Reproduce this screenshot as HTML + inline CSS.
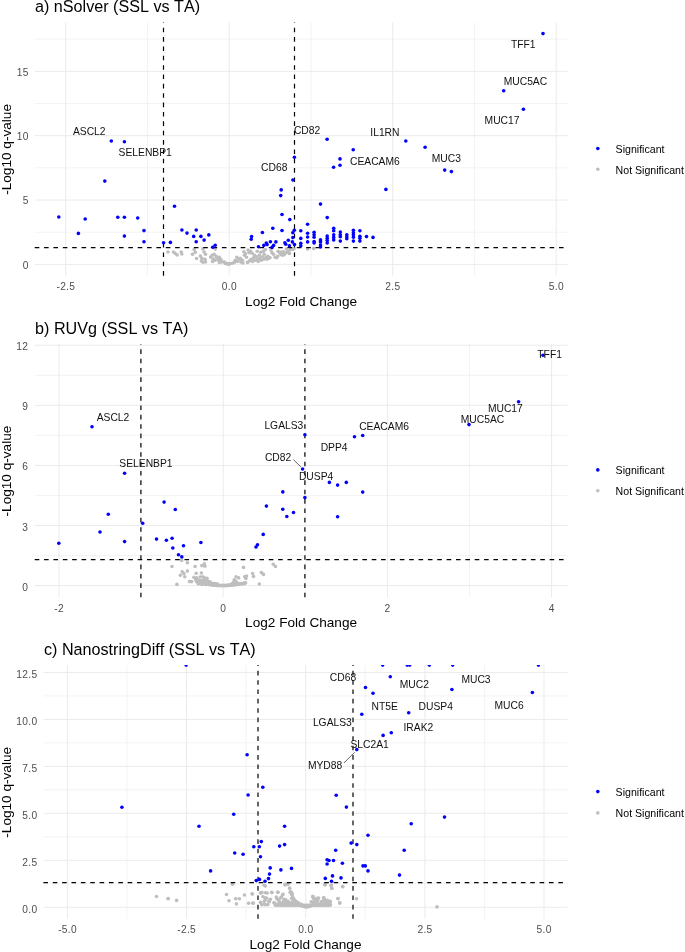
<!DOCTYPE html>
<html><head><meta charset="utf-8"><title>Volcano plots</title>
<style>
html,body{margin:0;padding:0;background:#fff;}
svg{display:block;will-change:transform;}
text{font-family:"Liberation Sans",sans-serif;font-kerning:none;}
.gmaj{stroke:#EBEBEB;stroke-width:1.0;}
.gmin{stroke:#EBEBEB;stroke-width:0.6;}
.dash{stroke:#000;stroke-width:1.2;stroke-dasharray:4.6 4.762;fill:none;}
.tick{font-size:10.2px;fill:#4D4D4D;letter-spacing:0.3px;}
.title{font-size:16.15px;fill:#000;}
.atitle{font-size:13.62px;fill:#000;}
.leg{font-size:10.6px;fill:#000;}
.lab{font-size:10.3px;fill:#111;}
.seg{stroke:#555;stroke-width:0.9;}
</style></head><body>
<svg width="685" height="952" viewBox="0 0 685 952">
<rect width="685" height="952" fill="#fff"/>
<line x1="34.7" x2="567.5" y1="232.22" y2="232.22" class="gmin"/>
<line x1="34.7" x2="567.5" y1="167.88" y2="167.88" class="gmin"/>
<line x1="34.7" x2="567.5" y1="103.52" y2="103.52" class="gmin"/>
<line x1="34.7" x2="567.5" y1="39.17" y2="39.17" class="gmin"/>
<line x1="147.45" x2="147.45" y1="22.4" y2="275.7" class="gmin"/>
<line x1="310.95" x2="310.95" y1="22.4" y2="275.7" class="gmin"/>
<line x1="474.45" x2="474.45" y1="22.4" y2="275.7" class="gmin"/>
<line x1="34.7" x2="567.5" y1="264.40" y2="264.40" class="gmaj"/>
<line x1="34.7" x2="567.5" y1="200.05" y2="200.05" class="gmaj"/>
<line x1="34.7" x2="567.5" y1="135.70" y2="135.70" class="gmaj"/>
<line x1="34.7" x2="567.5" y1="71.35" y2="71.35" class="gmaj"/>
<line x1="65.70" x2="65.70" y1="22.4" y2="275.7" class="gmaj"/>
<line x1="229.20" x2="229.20" y1="22.4" y2="275.7" class="gmaj"/>
<line x1="392.70" x2="392.70" y1="22.4" y2="275.7" class="gmaj"/>
<line x1="556.20" x2="556.20" y1="22.4" y2="275.7" class="gmaj"/>
<text x="28.7" y="268.60" class="tick" text-anchor="end">0</text>
<text x="28.7" y="204.25" class="tick" text-anchor="end">5</text>
<text x="28.7" y="139.90" class="tick" text-anchor="end">10</text>
<text x="28.7" y="75.55" class="tick" text-anchor="end">15</text>
<text x="65.85" y="290.1" class="tick" text-anchor="middle">-2.5</text>
<text x="229.35" y="290.1" class="tick" text-anchor="middle">0.0</text>
<text x="392.85" y="290.1" class="tick" text-anchor="middle">2.5</text>
<text x="556.35" y="290.1" class="tick" text-anchor="middle">5.0</text>
<text x="35.0" y="12.3" class="title">a) nSolver (SSL vs TA)</text>
<text x="301.10" y="306.1" class="atitle" text-anchor="middle">Log2 Fold Change</text>
<text transform="translate(10.8,149.45) rotate(-90)" class="atitle" text-anchor="middle">-Log10 q-value</text>
<circle cx="597.8" cy="148.5" r="1.8" fill="#0000FF"/>
<circle cx="597.8" cy="169.3" r="1.8" fill="#BEBEBE"/>
<text x="615.6" y="152.80" class="leg">Significant</text>
<text x="615.6" y="173.70" class="leg">Not Significant</text>
<g fill="#BEBEBE">
<circle cx="168.0" cy="252.0" r="1.8"/>
<circle cx="173.5" cy="252.0" r="1.8"/>
<circle cx="175.3" cy="253.5" r="1.8"/>
<circle cx="177.2" cy="255.0" r="1.8"/>
<circle cx="181.2" cy="252.0" r="1.8"/>
<circle cx="181.8" cy="254.0" r="1.8"/>
<circle cx="194.2" cy="249.6" r="1.8"/>
<circle cx="195.3" cy="252.2" r="1.8"/>
<circle cx="192.5" cy="254.2" r="1.8"/>
<circle cx="196.6" cy="258.5" r="1.8"/>
<circle cx="200.4" cy="256.1" r="1.8"/>
<circle cx="201.9" cy="258.3" r="1.8"/>
<circle cx="201.4" cy="260.9" r="1.8"/>
<circle cx="202.9" cy="262.2" r="1.8"/>
<circle cx="205.0" cy="259.3" r="1.8"/>
<circle cx="205.5" cy="261.9" r="1.8"/>
<circle cx="202.9" cy="248.9" r="1.8"/>
<circle cx="204.1" cy="252.0" r="1.8"/>
<circle cx="205.5" cy="254.2" r="1.8"/>
<circle cx="215.2" cy="249.1" r="1.8"/>
<circle cx="210.6" cy="257.1" r="1.8"/>
<circle cx="212.1" cy="255.2" r="1.8"/>
<circle cx="214.2" cy="254.2" r="1.8"/>
<circle cx="216.2" cy="256.3" r="1.8"/>
<circle cx="213.1" cy="258.8" r="1.8"/>
<circle cx="212.6" cy="261.4" r="1.8"/>
<circle cx="215.2" cy="260.3" r="1.8"/>
<circle cx="217.2" cy="258.3" r="1.8"/>
<circle cx="219.3" cy="257.3" r="1.8"/>
<circle cx="218.8" cy="260.3" r="1.8"/>
<circle cx="220.8" cy="259.3" r="1.8"/>
<circle cx="219.3" cy="262.4" r="1.8"/>
<circle cx="221.3" cy="261.9" r="1.8"/>
<circle cx="223.9" cy="261.9" r="1.8"/>
<circle cx="225.4" cy="263.4" r="1.8"/>
<circle cx="227.4" cy="263.9" r="1.8"/>
<circle cx="229.5" cy="263.9" r="1.8"/>
<circle cx="226.0" cy="263.4" r="1.8"/>
<circle cx="228.1" cy="263.9" r="1.8"/>
<circle cx="230.1" cy="263.7" r="1.8"/>
<circle cx="232.2" cy="263.2" r="1.8"/>
<circle cx="234.2" cy="262.4" r="1.8"/>
<circle cx="235.2" cy="260.3" r="1.8"/>
<circle cx="236.8" cy="257.3" r="1.8"/>
<circle cx="237.3" cy="261.4" r="1.8"/>
<circle cx="238.8" cy="259.3" r="1.8"/>
<circle cx="240.3" cy="258.3" r="1.8"/>
<circle cx="240.8" cy="261.9" r="1.8"/>
<circle cx="242.4" cy="260.3" r="1.8"/>
<circle cx="242.9" cy="262.9" r="1.8"/>
<circle cx="243.9" cy="251.7" r="1.8"/>
<circle cx="244.4" cy="255.2" r="1.8"/>
<circle cx="245.4" cy="253.7" r="1.8"/>
<circle cx="246.5" cy="257.3" r="1.8"/>
<circle cx="247.5" cy="262.4" r="1.8"/>
<circle cx="248.0" cy="250.1" r="1.8"/>
<circle cx="249.0" cy="252.7" r="1.8"/>
<circle cx="249.5" cy="260.9" r="1.8"/>
<circle cx="250.5" cy="251.2" r="1.8"/>
<circle cx="251.1" cy="259.3" r="1.8"/>
<circle cx="252.1" cy="253.2" r="1.8"/>
<circle cx="252.6" cy="261.4" r="1.8"/>
<circle cx="253.6" cy="257.8" r="1.8"/>
<circle cx="254.6" cy="255.2" r="1.8"/>
<circle cx="255.1" cy="260.3" r="1.8"/>
<circle cx="256.2" cy="256.8" r="1.8"/>
<circle cx="257.2" cy="251.2" r="1.8"/>
<circle cx="257.7" cy="259.3" r="1.8"/>
<circle cx="258.2" cy="261.4" r="1.8"/>
<circle cx="259.2" cy="255.2" r="1.8"/>
<circle cx="259.7" cy="258.3" r="1.8"/>
<circle cx="260.8" cy="252.2" r="1.8"/>
<circle cx="261.3" cy="260.3" r="1.8"/>
<circle cx="262.3" cy="256.8" r="1.8"/>
<circle cx="263.3" cy="251.2" r="1.8"/>
<circle cx="263.8" cy="259.3" r="1.8"/>
<circle cx="264.3" cy="254.2" r="1.8"/>
<circle cx="265.4" cy="249.6" r="1.8"/>
<circle cx="265.9" cy="257.3" r="1.8"/>
<circle cx="266.9" cy="259.3" r="1.8"/>
<circle cx="267.9" cy="256.3" r="1.8"/>
<circle cx="268.9" cy="258.3" r="1.8"/>
<circle cx="270.0" cy="257.8" r="1.8"/>
<circle cx="271.0" cy="250.1" r="1.8"/>
<circle cx="272.0" cy="252.7" r="1.8"/>
<circle cx="273.5" cy="254.2" r="1.8"/>
<circle cx="275.1" cy="257.3" r="1.8"/>
<circle cx="276.6" cy="257.8" r="1.8"/>
<circle cx="277.6" cy="256.3" r="1.8"/>
<circle cx="278.1" cy="251.2" r="1.8"/>
<circle cx="279.7" cy="252.7" r="1.8"/>
<circle cx="280.7" cy="254.2" r="1.8"/>
<circle cx="282.2" cy="255.2" r="1.8"/>
<circle cx="283.2" cy="251.7" r="1.8"/>
<circle cx="284.8" cy="253.2" r="1.8"/>
<circle cx="286.3" cy="249.1" r="1.8"/>
<circle cx="287.8" cy="251.2" r="1.8"/>
<circle cx="289.4" cy="253.2" r="1.8"/>
<circle cx="290.4" cy="249.6" r="1.8"/>
<circle cx="292.4" cy="249.1" r="1.8"/>
<circle cx="294.0" cy="248.6" r="1.8"/>
<circle cx="281.0" cy="252.1" r="1.8"/>
<circle cx="282.5" cy="253.5" r="1.8"/>
<circle cx="284.1" cy="254.8" r="1.8"/>
<circle cx="286.1" cy="252.7" r="1.8"/>
<circle cx="288.2" cy="251.1" r="1.8"/>
<circle cx="289.2" cy="253.5" r="1.8"/>
<circle cx="291.2" cy="249.0" r="1.8"/>
<circle cx="293.3" cy="249.0" r="1.8"/>
<circle cx="307.6" cy="249.0" r="1.8"/>
<circle cx="313.7" cy="248.4" r="1.8"/>
</g>
<line x1="163.50" x2="163.50" y1="275.7" y2="22.4" class="dash"/>
<line x1="294.50" x2="294.50" y1="275.7" y2="22.4" class="dash"/>
<line x1="34.7" x2="567.5" y1="247.70" y2="247.70" class="dash"/>
<g fill="#0000FF">
<circle cx="58.8" cy="217.0" r="1.8"/>
<circle cx="78.4" cy="233.4" r="1.8"/>
<circle cx="85.2" cy="219.0" r="1.8"/>
<circle cx="104.8" cy="181.1" r="1.8"/>
<circle cx="117.8" cy="217.3" r="1.8"/>
<circle cx="124.4" cy="217.3" r="1.8"/>
<circle cx="124.4" cy="236.1" r="1.8"/>
<circle cx="137.7" cy="218.0" r="1.8"/>
<circle cx="144.0" cy="230.6" r="1.8"/>
<circle cx="144.0" cy="241.7" r="1.8"/>
<circle cx="163.6" cy="242.7" r="1.8"/>
<circle cx="170.4" cy="242.4" r="1.8"/>
<circle cx="111.3" cy="141.0" r="1.8"/>
<circle cx="124.4" cy="141.7" r="1.8"/>
<circle cx="174.5" cy="206.3" r="1.8"/>
<circle cx="181.9" cy="230.0" r="1.8"/>
<circle cx="187.0" cy="233.1" r="1.8"/>
<circle cx="193.7" cy="236.4" r="1.8"/>
<circle cx="196.2" cy="230.0" r="1.8"/>
<circle cx="196.2" cy="241.7" r="1.8"/>
<circle cx="200.9" cy="236.4" r="1.8"/>
<circle cx="204.1" cy="240.1" r="1.8"/>
<circle cx="208.8" cy="234.9" r="1.8"/>
<circle cx="215.2" cy="245.2" r="1.8"/>
<circle cx="212.7" cy="247.2" r="1.8"/>
<circle cx="251.6" cy="236.6" r="1.8"/>
<circle cx="251.2" cy="239.2" r="1.8"/>
<circle cx="262.4" cy="232.5" r="1.8"/>
<circle cx="258.5" cy="246.8" r="1.8"/>
<circle cx="263.8" cy="245.4" r="1.8"/>
<circle cx="266.3" cy="243.1" r="1.8"/>
<circle cx="267.1" cy="244.6" r="1.8"/>
<circle cx="270.4" cy="241.7" r="1.8"/>
<circle cx="272.8" cy="228.2" r="1.8"/>
<circle cx="273.6" cy="245.4" r="1.8"/>
<circle cx="272.0" cy="247.4" r="1.8"/>
<circle cx="275.9" cy="241.9" r="1.8"/>
<circle cx="282.0" cy="214.5" r="1.8"/>
<circle cx="282.0" cy="230.5" r="1.8"/>
<circle cx="289.8" cy="219.6" r="1.8"/>
<circle cx="284.9" cy="242.7" r="1.8"/>
<circle cx="285.7" cy="244.3" r="1.8"/>
<circle cx="288.3" cy="240.3" r="1.8"/>
<circle cx="289.4" cy="245.8" r="1.8"/>
<circle cx="292.8" cy="232.7" r="1.8"/>
<circle cx="294.3" cy="230.2" r="1.8"/>
<circle cx="292.8" cy="237.6" r="1.8"/>
<circle cx="292.4" cy="241.9" r="1.8"/>
<circle cx="294.5" cy="244.6" r="1.8"/>
<circle cx="320.5" cy="204.1" r="1.8"/>
<circle cx="327.2" cy="217.6" r="1.8"/>
<circle cx="307.6" cy="224.3" r="1.8"/>
<circle cx="327.1" cy="139.3" r="1.8"/>
<circle cx="353.2" cy="149.7" r="1.8"/>
<circle cx="405.8" cy="141.0" r="1.8"/>
<circle cx="294.4" cy="157.2" r="1.8"/>
<circle cx="340.0" cy="158.9" r="1.8"/>
<circle cx="340.0" cy="165.3" r="1.8"/>
<circle cx="333.6" cy="167.3" r="1.8"/>
<circle cx="292.9" cy="180.0" r="1.8"/>
<circle cx="281.2" cy="189.9" r="1.8"/>
<circle cx="280.7" cy="195.6" r="1.8"/>
<circle cx="385.9" cy="189.4" r="1.8"/>
<circle cx="543.0" cy="33.6" r="1.8"/>
<circle cx="503.7" cy="90.7" r="1.8"/>
<circle cx="523.4" cy="109.3" r="1.8"/>
<circle cx="425.1" cy="147.3" r="1.8"/>
<circle cx="444.7" cy="170.1" r="1.8"/>
<circle cx="451.4" cy="171.6" r="1.8"/>
<circle cx="366.5" cy="236.6" r="1.8"/>
<circle cx="373.0" cy="237.4" r="1.8"/>
<circle cx="300.8" cy="230.7" r="1.8"/>
<circle cx="300.8" cy="238.4" r="1.8"/>
<circle cx="300.8" cy="243.3" r="1.8"/>
<circle cx="300.8" cy="245.8" r="1.8"/>
<circle cx="307.6" cy="233.3" r="1.8"/>
<circle cx="307.6" cy="237.0" r="1.8"/>
<circle cx="307.6" cy="241.9" r="1.8"/>
<circle cx="314.1" cy="232.3" r="1.8"/>
<circle cx="314.1" cy="234.7" r="1.8"/>
<circle cx="314.1" cy="237.2" r="1.8"/>
<circle cx="314.1" cy="241.5" r="1.8"/>
<circle cx="314.1" cy="242.9" r="1.8"/>
<circle cx="320.5" cy="239.9" r="1.8"/>
<circle cx="320.5" cy="241.9" r="1.8"/>
<circle cx="320.5" cy="245.0" r="1.8"/>
<circle cx="320.5" cy="247.0" r="1.8"/>
<circle cx="327.2" cy="236.0" r="1.8"/>
<circle cx="327.2" cy="238.2" r="1.8"/>
<circle cx="327.2" cy="240.5" r="1.8"/>
<circle cx="327.2" cy="242.9" r="1.8"/>
<circle cx="333.7" cy="228.2" r="1.8"/>
<circle cx="333.7" cy="230.7" r="1.8"/>
<circle cx="333.7" cy="234.7" r="1.8"/>
<circle cx="333.7" cy="237.4" r="1.8"/>
<circle cx="333.7" cy="239.9" r="1.8"/>
<circle cx="340.3" cy="232.1" r="1.8"/>
<circle cx="340.3" cy="234.7" r="1.8"/>
<circle cx="340.3" cy="236.8" r="1.8"/>
<circle cx="340.3" cy="241.1" r="1.8"/>
<circle cx="346.8" cy="234.7" r="1.8"/>
<circle cx="346.8" cy="236.8" r="1.8"/>
<circle cx="346.8" cy="238.8" r="1.8"/>
<circle cx="353.4" cy="230.2" r="1.8"/>
<circle cx="353.4" cy="232.7" r="1.8"/>
<circle cx="353.4" cy="234.7" r="1.8"/>
<circle cx="353.4" cy="237.2" r="1.8"/>
<circle cx="353.4" cy="241.1" r="1.8"/>
<circle cx="359.9" cy="230.7" r="1.8"/>
<circle cx="359.9" cy="236.2" r="1.8"/>
<circle cx="359.9" cy="238.2" r="1.8"/>
<circle cx="359.9" cy="241.1" r="1.8"/>
</g>
<text x="72.9" y="134.6" class="lab">ASCL2</text>
<text x="118.6" y="156.0" class="lab">SELENBP1</text>
<text x="293.9" y="134.3" class="lab">CD82</text>
<text x="370.3" y="135.5" class="lab">IL1RN</text>
<text x="350.0" y="164.8" class="lab">CEACAM6</text>
<text x="261.1" y="171.2" class="lab">CD68</text>
<text x="510.9" y="47.7" class="lab">TFF1</text>
<text x="503.7" y="84.7" class="lab">MUC5AC</text>
<text x="484.6" y="123.9" class="lab">MUC17</text>
<text x="431.8" y="161.9" class="lab">MUC3</text>
<line x1="34.7" x2="567.5" y1="555.56" y2="555.56" class="gmin"/>
<line x1="34.7" x2="567.5" y1="495.47" y2="495.47" class="gmin"/>
<line x1="34.7" x2="567.5" y1="435.38" y2="435.38" class="gmin"/>
<line x1="34.7" x2="567.5" y1="375.29" y2="375.29" class="gmin"/>
<line x1="141.10" x2="141.10" y1="344.0" y2="597.3" class="gmin"/>
<line x1="305.30" x2="305.30" y1="344.0" y2="597.3" class="gmin"/>
<line x1="469.50" x2="469.50" y1="344.0" y2="597.3" class="gmin"/>
<line x1="34.7" x2="567.5" y1="585.60" y2="585.60" class="gmaj"/>
<line x1="34.7" x2="567.5" y1="525.51" y2="525.51" class="gmaj"/>
<line x1="34.7" x2="567.5" y1="465.42" y2="465.42" class="gmaj"/>
<line x1="34.7" x2="567.5" y1="405.33" y2="405.33" class="gmaj"/>
<line x1="34.7" x2="567.5" y1="345.24" y2="345.24" class="gmaj"/>
<line x1="59.00" x2="59.00" y1="344.0" y2="597.3" class="gmaj"/>
<line x1="223.20" x2="223.20" y1="344.0" y2="597.3" class="gmaj"/>
<line x1="387.40" x2="387.40" y1="344.0" y2="597.3" class="gmaj"/>
<line x1="551.60" x2="551.60" y1="344.0" y2="597.3" class="gmaj"/>
<text x="28.3" y="590.60" class="tick" text-anchor="end">0</text>
<text x="28.3" y="530.51" class="tick" text-anchor="end">3</text>
<text x="28.3" y="470.42" class="tick" text-anchor="end">6</text>
<text x="28.3" y="410.33" class="tick" text-anchor="end">9</text>
<text x="28.3" y="350.24" class="tick" text-anchor="end">12</text>
<text x="59.15" y="612.1" class="tick" text-anchor="middle">-2</text>
<text x="223.35" y="612.1" class="tick" text-anchor="middle">0</text>
<text x="387.55" y="612.1" class="tick" text-anchor="middle">2</text>
<text x="551.75" y="612.1" class="tick" text-anchor="middle">4</text>
<text x="35.1" y="334.0" class="title">b) RUVg (SSL vs TA)</text>
<text x="301.10" y="627.2" class="atitle" text-anchor="middle">Log2 Fold Change</text>
<text transform="translate(10.8,471.05) rotate(-90)" class="atitle" text-anchor="middle">-Log10 q-value</text>
<circle cx="597.8" cy="469.9" r="1.8" fill="#0000FF"/>
<circle cx="597.8" cy="490.7" r="1.8" fill="#BEBEBE"/>
<text x="615.6" y="474.20" class="leg">Significant</text>
<text x="615.6" y="495.10" class="leg">Not Significant</text>
<g fill="#BEBEBE">
<circle cx="172.0" cy="566.5" r="1.8"/>
<circle cx="181.6" cy="560.4" r="1.8"/>
<circle cx="187.4" cy="562.7" r="1.8"/>
<circle cx="195.1" cy="566.5" r="1.8"/>
<circle cx="201.8" cy="565.6" r="1.8"/>
<circle cx="204.4" cy="563.9" r="1.8"/>
<circle cx="204.9" cy="566.2" r="1.8"/>
<circle cx="182.2" cy="571.8" r="1.8"/>
<circle cx="183.9" cy="573.5" r="1.8"/>
<circle cx="187.4" cy="571.1" r="1.8"/>
<circle cx="180.4" cy="575.3" r="1.8"/>
<circle cx="184.8" cy="576.7" r="1.8"/>
<circle cx="196.2" cy="573.2" r="1.8"/>
<circle cx="201.4" cy="573.0" r="1.8"/>
<circle cx="193.9" cy="577.4" r="1.8"/>
<circle cx="196.5" cy="577.9" r="1.8"/>
<circle cx="200.0" cy="577.0" r="1.8"/>
<circle cx="202.7" cy="576.7" r="1.8"/>
<circle cx="204.4" cy="577.9" r="1.8"/>
<circle cx="207.0" cy="578.4" r="1.8"/>
<circle cx="189.5" cy="581.6" r="1.8"/>
<circle cx="191.6" cy="581.6" r="1.8"/>
<circle cx="176.9" cy="584.4" r="1.8"/>
<circle cx="197.4" cy="580.5" r="1.8"/>
<circle cx="199.2" cy="582.3" r="1.8"/>
<circle cx="200.9" cy="581.4" r="1.8"/>
<circle cx="202.7" cy="583.2" r="1.8"/>
<circle cx="204.4" cy="580.5" r="1.8"/>
<circle cx="206.2" cy="582.3" r="1.8"/>
<circle cx="207.9" cy="581.4" r="1.8"/>
<circle cx="208.8" cy="584.0" r="1.8"/>
<circle cx="198.3" cy="584.0" r="1.8"/>
<circle cx="201.8" cy="584.4" r="1.8"/>
<circle cx="205.3" cy="584.4" r="1.8"/>
<circle cx="210.6" cy="583.2" r="1.8"/>
<circle cx="212.3" cy="584.4" r="1.8"/>
<circle cx="214.9" cy="584.0" r="1.8"/>
<circle cx="217.6" cy="584.9" r="1.8"/>
<circle cx="220.2" cy="585.4" r="1.8"/>
<circle cx="222.8" cy="585.4" r="1.8"/>
<circle cx="225.4" cy="585.4" r="1.8"/>
<circle cx="228.1" cy="585.1" r="1.8"/>
<circle cx="230.7" cy="584.6" r="1.8"/>
<circle cx="233.3" cy="584.0" r="1.8"/>
<circle cx="235.1" cy="580.5" r="1.8"/>
<circle cx="236.0" cy="576.7" r="1.8"/>
<circle cx="234.2" cy="579.7" r="1.8"/>
<circle cx="238.6" cy="577.9" r="1.8"/>
<circle cx="236.8" cy="582.3" r="1.8"/>
<circle cx="239.5" cy="583.7" r="1.8"/>
<circle cx="242.1" cy="584.0" r="1.8"/>
<circle cx="244.7" cy="583.7" r="1.8"/>
<circle cx="243.5" cy="567.4" r="1.8"/>
<circle cx="244.7" cy="576.7" r="1.8"/>
<circle cx="246.5" cy="576.1" r="1.8"/>
<circle cx="245.9" cy="578.4" r="1.8"/>
<circle cx="252.6" cy="573.5" r="1.8"/>
<circle cx="253.5" cy="576.5" r="1.8"/>
<circle cx="259.3" cy="584.0" r="1.8"/>
<circle cx="261.4" cy="572.6" r="1.8"/>
<circle cx="263.5" cy="574.4" r="1.8"/>
<circle cx="273.3" cy="564.2" r="1.8"/>
<circle cx="275.4" cy="566.5" r="1.8"/>
<circle cx="196.5" cy="581.8" r="1.8"/>
<circle cx="197.8" cy="582.1" r="1.8"/>
<circle cx="199.0" cy="582.4" r="1.8"/>
<circle cx="200.2" cy="582.8" r="1.8"/>
<circle cx="201.4" cy="583.1" r="1.8"/>
<circle cx="202.7" cy="583.3" r="1.8"/>
<circle cx="203.9" cy="583.6" r="1.8"/>
<circle cx="205.1" cy="583.9" r="1.8"/>
<circle cx="206.3" cy="584.1" r="1.8"/>
<circle cx="207.6" cy="584.3" r="1.8"/>
<circle cx="208.8" cy="584.5" r="1.8"/>
<circle cx="210.0" cy="584.7" r="1.8"/>
<circle cx="211.3" cy="584.9" r="1.8"/>
<circle cx="212.5" cy="585.0" r="1.8"/>
<circle cx="213.7" cy="585.1" r="1.8"/>
<circle cx="214.9" cy="585.3" r="1.8"/>
<circle cx="216.2" cy="585.4" r="1.8"/>
<circle cx="217.4" cy="585.4" r="1.8"/>
<circle cx="218.6" cy="585.5" r="1.8"/>
<circle cx="219.8" cy="585.6" r="1.8"/>
<circle cx="221.1" cy="585.6" r="1.8"/>
<circle cx="222.3" cy="585.6" r="1.8"/>
<circle cx="223.5" cy="585.6" r="1.8"/>
<circle cx="224.7" cy="585.6" r="1.8"/>
<circle cx="226.0" cy="585.6" r="1.8"/>
<circle cx="227.2" cy="585.5" r="1.8"/>
<circle cx="228.4" cy="585.4" r="1.8"/>
<circle cx="229.6" cy="585.3" r="1.8"/>
<circle cx="230.9" cy="585.2" r="1.8"/>
<circle cx="232.1" cy="585.1" r="1.8"/>
<circle cx="233.3" cy="585.0" r="1.8"/>
<circle cx="234.6" cy="584.8" r="1.8"/>
<circle cx="235.8" cy="584.7" r="1.8"/>
<circle cx="237.0" cy="584.5" r="1.8"/>
<circle cx="238.2" cy="584.3" r="1.8"/>
<circle cx="239.5" cy="584.1" r="1.8"/>
<circle cx="240.7" cy="583.8" r="1.8"/>
<circle cx="241.9" cy="583.6" r="1.8"/>
<circle cx="243.1" cy="583.3" r="1.8"/>
<circle cx="244.4" cy="583.0" r="1.8"/>
<circle cx="245.6" cy="582.7" r="1.8"/>
<circle cx="196.5" cy="580.2" r="1.8"/>
<circle cx="198.1" cy="580.6" r="1.8"/>
<circle cx="199.7" cy="581.0" r="1.8"/>
<circle cx="201.3" cy="581.4" r="1.8"/>
<circle cx="202.8" cy="581.8" r="1.8"/>
<circle cx="204.4" cy="582.1" r="1.8"/>
<circle cx="206.0" cy="582.5" r="1.8"/>
<circle cx="207.6" cy="582.7" r="1.8"/>
<circle cx="209.1" cy="583.0" r="1.8"/>
<circle cx="210.7" cy="583.2" r="1.8"/>
<circle cx="212.3" cy="583.4" r="1.8"/>
<circle cx="213.9" cy="583.6" r="1.8"/>
<circle cx="215.5" cy="583.7" r="1.8"/>
<circle cx="217.0" cy="583.8" r="1.8"/>
<circle cx="195.8" cy="579.7" r="1.8"/>
<circle cx="197.6" cy="580.0" r="1.8"/>
<circle cx="199.3" cy="580.3" r="1.8"/>
<circle cx="201.1" cy="580.6" r="1.8"/>
<circle cx="202.8" cy="580.9" r="1.8"/>
<circle cx="204.6" cy="581.1" r="1.8"/>
<circle cx="206.3" cy="581.3" r="1.8"/>
<circle cx="208.1" cy="581.5" r="1.8"/>
<circle cx="209.8" cy="581.7" r="1.8"/>
<circle cx="233.7" cy="582.3" r="1.8"/>
<circle cx="235.1" cy="583.7" r="1.8"/>
<circle cx="237.2" cy="584.0" r="1.8"/>
<circle cx="232.4" cy="583.5" r="1.8"/>
</g>
<line x1="140.90" x2="140.90" y1="597.3" y2="344.0" class="dash"/>
<line x1="304.90" x2="304.90" y1="597.3" y2="344.0" class="dash"/>
<line x1="34.7" x2="567.5" y1="559.60" y2="559.60" class="dash"/>
<g fill="#0000FF">
<circle cx="92.0" cy="426.8" r="1.8"/>
<circle cx="124.6" cy="473.3" r="1.8"/>
<circle cx="58.8" cy="543.3" r="1.8"/>
<circle cx="100.0" cy="532.0" r="1.8"/>
<circle cx="108.3" cy="514.2" r="1.8"/>
<circle cx="124.6" cy="541.6" r="1.8"/>
<circle cx="142.7" cy="523.2" r="1.8"/>
<circle cx="164.1" cy="502.1" r="1.8"/>
<circle cx="175.3" cy="509.5" r="1.8"/>
<circle cx="156.5" cy="539.1" r="1.8"/>
<circle cx="166.4" cy="540.3" r="1.8"/>
<circle cx="172.1" cy="538.3" r="1.8"/>
<circle cx="172.8" cy="548.0" r="1.8"/>
<circle cx="183.5" cy="545.8" r="1.8"/>
<circle cx="200.9" cy="542.5" r="1.8"/>
<circle cx="178.5" cy="554.7" r="1.8"/>
<circle cx="181.8" cy="556.9" r="1.8"/>
<circle cx="282.8" cy="491.9" r="1.8"/>
<circle cx="304.9" cy="497.6" r="1.8"/>
<circle cx="266.4" cy="506.1" r="1.8"/>
<circle cx="282.8" cy="509.3" r="1.8"/>
<circle cx="293.5" cy="512.5" r="1.8"/>
<circle cx="286.8" cy="516.5" r="1.8"/>
<circle cx="263.2" cy="534.4" r="1.8"/>
<circle cx="257.5" cy="544.8" r="1.8"/>
<circle cx="256.0" cy="547.0" r="1.8"/>
<circle cx="304.9" cy="434.7" r="1.8"/>
<circle cx="354.5" cy="436.7" r="1.8"/>
<circle cx="362.7" cy="435.5" r="1.8"/>
<circle cx="302.6" cy="469.0" r="1.8"/>
<circle cx="329.4" cy="482.4" r="1.8"/>
<circle cx="337.6" cy="485.1" r="1.8"/>
<circle cx="346.3" cy="482.4" r="1.8"/>
<circle cx="362.7" cy="492.1" r="1.8"/>
<circle cx="337.6" cy="516.7" r="1.8"/>
<circle cx="543.0" cy="355.3" r="1.8"/>
<circle cx="518.6" cy="401.7" r="1.8"/>
<circle cx="469.0" cy="424.6" r="1.8"/>
</g>
<line x1="293.4" y1="459.6" x2="300.9" y2="467.0" class="seg"/>
<text x="96.7" y="421.2" class="lab">ASCL2</text>
<text x="119.3" y="467.4" class="lab">SELENBP1</text>
<text x="264.4" y="428.7" class="lab">LGALS3</text>
<text x="359.2" y="429.5" class="lab">CEACAM6</text>
<text x="320.7" y="450.6" class="lab">DPP4</text>
<text x="264.9" y="461.3" class="lab">CD82</text>
<text x="298.9" y="480.1" class="lab">DUSP4</text>
<text x="537.3" y="357.5" class="lab">TFF1</text>
<text x="487.9" y="412.4" class="lab">MUC17</text>
<text x="460.8" y="422.5" class="lab">MUC5AC</text>
<line x1="43.4" x2="567.6" y1="883.81" y2="883.81" class="gmin"/>
<line x1="43.4" x2="567.6" y1="836.84" y2="836.84" class="gmin"/>
<line x1="43.4" x2="567.6" y1="789.86" y2="789.86" class="gmin"/>
<line x1="43.4" x2="567.6" y1="742.89" y2="742.89" class="gmin"/>
<line x1="43.4" x2="567.6" y1="695.91" y2="695.91" class="gmin"/>
<line x1="126.97" x2="126.97" y1="665.0" y2="918.8" class="gmin"/>
<line x1="246.12" x2="246.12" y1="665.0" y2="918.8" class="gmin"/>
<line x1="365.27" x2="365.27" y1="665.0" y2="918.8" class="gmin"/>
<line x1="484.42" x2="484.42" y1="665.0" y2="918.8" class="gmin"/>
<line x1="43.4" x2="567.6" y1="907.30" y2="907.30" class="gmaj"/>
<line x1="43.4" x2="567.6" y1="860.32" y2="860.32" class="gmaj"/>
<line x1="43.4" x2="567.6" y1="813.35" y2="813.35" class="gmaj"/>
<line x1="43.4" x2="567.6" y1="766.38" y2="766.38" class="gmaj"/>
<line x1="43.4" x2="567.6" y1="719.40" y2="719.40" class="gmaj"/>
<line x1="43.4" x2="567.6" y1="672.42" y2="672.42" class="gmaj"/>
<line x1="67.40" x2="67.40" y1="665.0" y2="918.8" class="gmaj"/>
<line x1="186.55" x2="186.55" y1="665.0" y2="918.8" class="gmaj"/>
<line x1="305.70" x2="305.70" y1="665.0" y2="918.8" class="gmaj"/>
<line x1="424.85" x2="424.85" y1="665.0" y2="918.8" class="gmaj"/>
<line x1="544.00" x2="544.00" y1="665.0" y2="918.8" class="gmaj"/>
<text x="37.4" y="912.50" class="tick" text-anchor="end">0.0</text>
<text x="37.4" y="865.52" class="tick" text-anchor="end">2.5</text>
<text x="37.4" y="818.55" class="tick" text-anchor="end">5.0</text>
<text x="37.4" y="771.58" class="tick" text-anchor="end">7.5</text>
<text x="37.4" y="724.60" class="tick" text-anchor="end">10.0</text>
<text x="37.4" y="677.62" class="tick" text-anchor="end">12.5</text>
<text x="67.55" y="932.9" class="tick" text-anchor="middle">-5.0</text>
<text x="186.70" y="932.9" class="tick" text-anchor="middle">-2.5</text>
<text x="305.85" y="932.9" class="tick" text-anchor="middle">0.0</text>
<text x="425.00" y="932.9" class="tick" text-anchor="middle">2.5</text>
<text x="544.15" y="932.9" class="tick" text-anchor="middle">5.0</text>
<text x="44.0" y="654.8" class="title">c) NanostringDiff (SSL vs TA)</text>
<text x="305.50" y="948.7" class="atitle" text-anchor="middle">Log2 Fold Change</text>
<text transform="translate(10.6,792.30) rotate(-90)" class="atitle" text-anchor="middle">-Log10 q-value</text>
<circle cx="597.8" cy="791.6" r="1.8" fill="#0000FF"/>
<circle cx="597.8" cy="812.9" r="1.8" fill="#BEBEBE"/>
<text x="615.6" y="795.90" class="leg">Significant</text>
<text x="615.6" y="817.30" class="leg">Not Significant</text>
<g fill="#BEBEBE">
<circle cx="168.2" cy="898.7" r="1.8"/>
<circle cx="176.6" cy="900.4" r="1.8"/>
<circle cx="232.5" cy="884.3" r="1.8"/>
<circle cx="226.5" cy="894.5" r="1.8"/>
<circle cx="229.0" cy="900.7" r="1.8"/>
<circle cx="235.7" cy="898.7" r="1.8"/>
<circle cx="239.4" cy="898.7" r="1.8"/>
<circle cx="236.4" cy="903.9" r="1.8"/>
<circle cx="244.4" cy="895.0" r="1.8"/>
<circle cx="252.3" cy="894.0" r="1.8"/>
<circle cx="248.6" cy="903.2" r="1.8"/>
<circle cx="253.1" cy="903.2" r="1.8"/>
<circle cx="264.2" cy="885.3" r="1.8"/>
<circle cx="261.3" cy="892.5" r="1.8"/>
<circle cx="265.5" cy="892.8" r="1.8"/>
<circle cx="271.7" cy="892.3" r="1.8"/>
<circle cx="277.9" cy="892.3" r="1.8"/>
<circle cx="282.9" cy="894.2" r="1.8"/>
<circle cx="263.0" cy="896.7" r="1.8"/>
<circle cx="266.7" cy="898.2" r="1.8"/>
<circle cx="260.5" cy="902.2" r="1.8"/>
<circle cx="264.2" cy="901.2" r="1.8"/>
<circle cx="269.2" cy="901.7" r="1.8"/>
<circle cx="261.8" cy="904.7" r="1.8"/>
<circle cx="265.5" cy="904.7" r="1.8"/>
<circle cx="270.4" cy="899.2" r="1.8"/>
<circle cx="274.2" cy="902.9" r="1.8"/>
<circle cx="276.7" cy="898.0" r="1.8"/>
<circle cx="279.1" cy="900.4" r="1.8"/>
<circle cx="281.6" cy="896.7" r="1.8"/>
<circle cx="284.1" cy="899.2" r="1.8"/>
<circle cx="285.3" cy="884.3" r="1.8"/>
<circle cx="287.8" cy="884.3" r="1.8"/>
<circle cx="289.6" cy="888.0" r="1.8"/>
<circle cx="290.8" cy="891.8" r="1.8"/>
<circle cx="291.5" cy="894.2" r="1.8"/>
<circle cx="292.8" cy="897.2" r="1.8"/>
<circle cx="294.0" cy="899.2" r="1.8"/>
<circle cx="276.7" cy="904.7" r="1.8"/>
<circle cx="280.4" cy="904.7" r="1.8"/>
<circle cx="282.9" cy="902.9" r="1.8"/>
<circle cx="285.3" cy="904.7" r="1.8"/>
<circle cx="287.8" cy="901.7" r="1.8"/>
<circle cx="289.1" cy="904.7" r="1.8"/>
<circle cx="291.5" cy="902.9" r="1.8"/>
<circle cx="294.0" cy="904.7" r="1.8"/>
<circle cx="295.3" cy="901.7" r="1.8"/>
<circle cx="297.8" cy="903.7" r="1.8"/>
<circle cx="300.2" cy="905.4" r="1.8"/>
<circle cx="302.7" cy="906.2" r="1.8"/>
<circle cx="305.2" cy="906.7" r="1.8"/>
<circle cx="307.7" cy="906.7" r="1.8"/>
<circle cx="310.2" cy="906.2" r="1.8"/>
<circle cx="312.6" cy="904.7" r="1.8"/>
<circle cx="313.9" cy="902.9" r="1.8"/>
<circle cx="315.1" cy="900.4" r="1.8"/>
<circle cx="313.1" cy="896.7" r="1.8"/>
<circle cx="316.4" cy="898.7" r="1.8"/>
<circle cx="318.8" cy="904.2" r="1.8"/>
<circle cx="321.3" cy="901.7" r="1.8"/>
<circle cx="323.8" cy="898.0" r="1.8"/>
<circle cx="322.6" cy="904.7" r="1.8"/>
<circle cx="325.1" cy="902.9" r="1.8"/>
<circle cx="327.5" cy="900.4" r="1.8"/>
<circle cx="328.8" cy="904.2" r="1.8"/>
<circle cx="325.1" cy="884.8" r="1.8"/>
<circle cx="324.8" cy="884.8" r="1.8"/>
<circle cx="331.0" cy="885.6" r="1.8"/>
<circle cx="331.8" cy="888.3" r="1.8"/>
<circle cx="342.7" cy="886.6" r="1.8"/>
<circle cx="356.6" cy="898.7" r="1.8"/>
<circle cx="338.0" cy="898.5" r="1.8"/>
<circle cx="339.7" cy="902.9" r="1.8"/>
<circle cx="437.0" cy="906.9" r="1.8"/>
<circle cx="312.9" cy="896.7" r="1.8"/>
<circle cx="314.9" cy="899.2" r="1.8"/>
<circle cx="318.6" cy="898.0" r="1.8"/>
<circle cx="323.6" cy="898.0" r="1.8"/>
<circle cx="324.8" cy="900.4" r="1.8"/>
<circle cx="329.8" cy="901.7" r="1.8"/>
<circle cx="311.2" cy="901.7" r="1.8"/>
<circle cx="317.4" cy="902.9" r="1.8"/>
<circle cx="321.1" cy="904.2" r="1.8"/>
<circle cx="324.8" cy="904.7" r="1.8"/>
<circle cx="329.8" cy="904.7" r="1.8"/>
<circle cx="313.7" cy="904.7" r="1.8"/>
<circle cx="309.9" cy="905.4" r="1.8"/>
<circle cx="307.4" cy="906.2" r="1.8"/>
<circle cx="305.0" cy="906.2" r="1.8"/>
<circle cx="302.5" cy="905.4" r="1.8"/>
<circle cx="300.5" cy="904.2" r="1.8"/>
<circle cx="252.2" cy="893.8" r="1.8"/>
<circle cx="252.9" cy="903.1" r="1.8"/>
<circle cx="260.5" cy="892.9" r="1.8"/>
<circle cx="262.0" cy="892.6" r="1.8"/>
<circle cx="260.5" cy="902.5" r="1.8"/>
<circle cx="265.3" cy="886.0" r="1.8"/>
<circle cx="267.2" cy="893.0" r="1.8"/>
<circle cx="271.9" cy="892.6" r="1.8"/>
<circle cx="277.7" cy="892.3" r="1.8"/>
<circle cx="282.8" cy="894.5" r="1.8"/>
<circle cx="285.0" cy="884.9" r="1.8"/>
<circle cx="287.7" cy="884.1" r="1.8"/>
<circle cx="289.7" cy="888.5" r="1.8"/>
<circle cx="290.1" cy="892.3" r="1.8"/>
<circle cx="291.9" cy="893.0" r="1.8"/>
<circle cx="292.3" cy="894.8" r="1.8"/>
<circle cx="265.3" cy="897.7" r="1.8"/>
<circle cx="265.0" cy="900.6" r="1.8"/>
<circle cx="269.0" cy="901.4" r="1.8"/>
<circle cx="264.2" cy="904.3" r="1.8"/>
<circle cx="267.8" cy="904.6" r="1.8"/>
<circle cx="276.3" cy="897.0" r="1.8"/>
<circle cx="277.4" cy="899.2" r="1.8"/>
<circle cx="280.7" cy="897.7" r="1.8"/>
<circle cx="274.1" cy="902.8" r="1.8"/>
<circle cx="277.0" cy="904.3" r="1.8"/>
<circle cx="279.2" cy="902.1" r="1.8"/>
<circle cx="281.4" cy="904.0" r="1.8"/>
<circle cx="283.6" cy="901.4" r="1.8"/>
<circle cx="285.8" cy="899.9" r="1.8"/>
<circle cx="286.5" cy="902.8" r="1.8"/>
<circle cx="288.2" cy="901.4" r="1.8"/>
<circle cx="289.4" cy="904.3" r="1.8"/>
<circle cx="291.6" cy="898.4" r="1.8"/>
<circle cx="292.3" cy="902.1" r="1.8"/>
<circle cx="293.8" cy="899.9" r="1.8"/>
<circle cx="294.5" cy="903.5" r="1.8"/>
<circle cx="296.0" cy="901.4" r="1.8"/>
<circle cx="296.7" cy="904.3" r="1.8"/>
<circle cx="298.2" cy="902.8" r="1.8"/>
<circle cx="299.6" cy="905.0" r="1.8"/>
<circle cx="301.1" cy="904.3" r="1.8"/>
<circle cx="302.6" cy="905.7" r="1.8"/>
<circle cx="304.0" cy="906.5" r="1.8"/>
<circle cx="306.2" cy="906.9" r="1.8"/>
<circle cx="308.4" cy="906.5" r="1.8"/>
<circle cx="310.6" cy="905.7" r="1.8"/>
<circle cx="312.0" cy="902.1" r="1.8"/>
<circle cx="312.8" cy="896.2" r="1.8"/>
<circle cx="313.5" cy="898.4" r="1.8"/>
<circle cx="314.2" cy="904.3" r="1.8"/>
<circle cx="316.4" cy="902.8" r="1.8"/>
<circle cx="317.2" cy="898.4" r="1.8"/>
<circle cx="317.9" cy="899.9" r="1.8"/>
<circle cx="318.6" cy="905.0" r="1.8"/>
<circle cx="320.8" cy="903.5" r="1.8"/>
<circle cx="322.3" cy="901.4" r="1.8"/>
<circle cx="323.7" cy="897.7" r="1.8"/>
<circle cx="324.5" cy="899.9" r="1.8"/>
<circle cx="325.2" cy="904.3" r="1.8"/>
<circle cx="327.4" cy="903.5" r="1.8"/>
<circle cx="330.3" cy="901.4" r="1.8"/>
<circle cx="330.3" cy="904.6" r="1.8"/>
<circle cx="325.2" cy="884.6" r="1.8"/>
<circle cx="331.5" cy="885.0" r="1.8"/>
<circle cx="331.8" cy="888.2" r="1.8"/>
<circle cx="338.0" cy="898.7" r="1.8"/>
<circle cx="339.8" cy="903.1" r="1.8"/>
<circle cx="342.7" cy="886.8" r="1.8"/>
<circle cx="275.5" cy="905.2" r="1.8"/>
<circle cx="277.2" cy="905.2" r="1.8"/>
<circle cx="278.8" cy="905.2" r="1.8"/>
<circle cx="280.4" cy="905.2" r="1.8"/>
<circle cx="282.0" cy="905.2" r="1.8"/>
<circle cx="283.6" cy="905.2" r="1.8"/>
<circle cx="285.2" cy="905.2" r="1.8"/>
<circle cx="286.8" cy="905.2" r="1.8"/>
<circle cx="288.4" cy="905.2" r="1.8"/>
<circle cx="290.0" cy="905.2" r="1.8"/>
<circle cx="291.6" cy="905.2" r="1.8"/>
<circle cx="293.2" cy="905.2" r="1.8"/>
<circle cx="294.8" cy="905.2" r="1.8"/>
<circle cx="296.4" cy="905.2" r="1.8"/>
<circle cx="298.0" cy="905.2" r="1.8"/>
<circle cx="299.6" cy="905.2" r="1.8"/>
<circle cx="301.2" cy="905.2" r="1.8"/>
<circle cx="302.8" cy="905.2" r="1.8"/>
<circle cx="304.5" cy="905.2" r="1.8"/>
<circle cx="306.1" cy="905.2" r="1.8"/>
<circle cx="307.7" cy="905.2" r="1.8"/>
<circle cx="309.3" cy="905.2" r="1.8"/>
<circle cx="310.9" cy="905.2" r="1.8"/>
<circle cx="312.5" cy="905.2" r="1.8"/>
<circle cx="314.1" cy="905.2" r="1.8"/>
<circle cx="315.7" cy="905.2" r="1.8"/>
<circle cx="317.3" cy="905.2" r="1.8"/>
<circle cx="318.9" cy="905.2" r="1.8"/>
<circle cx="320.5" cy="905.2" r="1.8"/>
<circle cx="322.1" cy="905.2" r="1.8"/>
<circle cx="323.7" cy="905.2" r="1.8"/>
<circle cx="325.3" cy="905.2" r="1.8"/>
<circle cx="326.9" cy="905.2" r="1.8"/>
<circle cx="328.5" cy="905.2" r="1.8"/>
<circle cx="330.1" cy="905.2" r="1.8"/>
<circle cx="279.2" cy="903.7" r="1.8"/>
<circle cx="280.9" cy="903.7" r="1.8"/>
<circle cx="282.7" cy="903.7" r="1.8"/>
<circle cx="284.5" cy="903.7" r="1.8"/>
<circle cx="286.2" cy="903.7" r="1.8"/>
<circle cx="288.0" cy="903.7" r="1.8"/>
<circle cx="289.7" cy="903.7" r="1.8"/>
<circle cx="291.5" cy="903.7" r="1.8"/>
<circle cx="293.2" cy="903.7" r="1.8"/>
<circle cx="295.0" cy="903.7" r="1.8"/>
<circle cx="296.7" cy="903.7" r="1.8"/>
<circle cx="298.5" cy="903.7" r="1.8"/>
<circle cx="156.5" cy="896.5" r="1.8"/>
<circle cx="168.1" cy="898.5" r="1.8"/>
</g>
<line x1="258.00" x2="258.00" y1="918.8" y2="665.0" class="dash"/>
<line x1="353.00" x2="353.00" y1="918.8" y2="665.0" class="dash"/>
<line x1="43.4" x2="567.6" y1="882.60" y2="882.60" class="dash"/>
<clipPath id="cc"><rect x="43.4" y="665.0" width="524.2" height="253.79999999999995"/></clipPath>
<g clip-path="url(#cc)">
<g fill="#0000FF">
<circle cx="186.1" cy="665.1" r="1.8"/>
<circle cx="382.7" cy="665.1" r="1.8"/>
<circle cx="407.2" cy="665.1" r="1.8"/>
<circle cx="409.7" cy="665.1" r="1.8"/>
<circle cx="429.3" cy="665.1" r="1.8"/>
<circle cx="452.7" cy="665.1" r="1.8"/>
<circle cx="538.4" cy="665.1" r="1.8"/>
</g>
</g>
<g fill="#0000FF">
<circle cx="121.9" cy="807.3" r="1.8"/>
<circle cx="247.1" cy="754.8" r="1.8"/>
<circle cx="262.8" cy="787.3" r="1.8"/>
<circle cx="248.1" cy="795.0" r="1.8"/>
<circle cx="233.7" cy="814.3" r="1.8"/>
<circle cx="199.0" cy="826.2" r="1.8"/>
<circle cx="284.6" cy="826.2" r="1.8"/>
<circle cx="261.3" cy="841.6" r="1.8"/>
<circle cx="253.8" cy="846.8" r="1.8"/>
<circle cx="259.3" cy="846.8" r="1.8"/>
<circle cx="279.6" cy="846.1" r="1.8"/>
<circle cx="284.6" cy="844.6" r="1.8"/>
<circle cx="234.7" cy="853.0" r="1.8"/>
<circle cx="243.1" cy="854.3" r="1.8"/>
<circle cx="260.5" cy="856.8" r="1.8"/>
<circle cx="210.6" cy="870.9" r="1.8"/>
<circle cx="270.2" cy="867.9" r="1.8"/>
<circle cx="280.9" cy="869.9" r="1.8"/>
<circle cx="291.5" cy="868.4" r="1.8"/>
<circle cx="269.5" cy="874.1" r="1.8"/>
<circle cx="268.5" cy="878.6" r="1.8"/>
<circle cx="256.3" cy="880.6" r="1.8"/>
<circle cx="259.5" cy="879.4" r="1.8"/>
<circle cx="265.0" cy="881.3" r="1.8"/>
<circle cx="390.3" cy="676.8" r="1.8"/>
<circle cx="365.5" cy="687.5" r="1.8"/>
<circle cx="373.0" cy="693.2" r="1.8"/>
<circle cx="451.9" cy="689.5" r="1.8"/>
<circle cx="361.8" cy="714.3" r="1.8"/>
<circle cx="408.7" cy="712.8" r="1.8"/>
<circle cx="383.1" cy="735.4" r="1.8"/>
<circle cx="391.3" cy="732.7" r="1.8"/>
<circle cx="356.8" cy="749.6" r="1.8"/>
<circle cx="532.4" cy="692.5" r="1.8"/>
<circle cx="336.2" cy="795.2" r="1.8"/>
<circle cx="346.4" cy="807.1" r="1.8"/>
<circle cx="444.5" cy="817.1" r="1.8"/>
<circle cx="411.2" cy="823.8" r="1.8"/>
<circle cx="368.0" cy="835.2" r="1.8"/>
<circle cx="351.1" cy="843.1" r="1.8"/>
<circle cx="356.8" cy="844.6" r="1.8"/>
<circle cx="335.7" cy="850.3" r="1.8"/>
<circle cx="404.2" cy="850.3" r="1.8"/>
<circle cx="327.1" cy="859.7" r="1.8"/>
<circle cx="329.0" cy="860.5" r="1.8"/>
<circle cx="333.5" cy="860.5" r="1.8"/>
<circle cx="327.1" cy="864.0" r="1.8"/>
<circle cx="342.4" cy="863.2" r="1.8"/>
<circle cx="363.0" cy="865.9" r="1.8"/>
<circle cx="365.3" cy="865.9" r="1.8"/>
<circle cx="368.0" cy="870.9" r="1.8"/>
<circle cx="399.5" cy="875.1" r="1.8"/>
<circle cx="332.5" cy="875.9" r="1.8"/>
<circle cx="325.3" cy="878.4" r="1.8"/>
<circle cx="341.0" cy="877.9" r="1.8"/>
<circle cx="331.5" cy="881.3" r="1.8"/>
</g>
<line x1="343.9" y1="763.0" x2="354.6" y2="752.3" class="seg"/>
<text x="329.8" y="681.0" class="lab">CD68</text>
<text x="399.8" y="688.0" class="lab">MUC2</text>
<text x="461.4" y="682.5" class="lab">MUC3</text>
<text x="371.5" y="709.8" class="lab">NT5E</text>
<text x="418.6" y="709.8" class="lab">DUSP4</text>
<text x="312.9" y="725.9" class="lab">LGALS3</text>
<text x="403.5" y="731.4" class="lab">IRAK2</text>
<text x="350.4" y="747.5" class="lab">SLC2A1</text>
<text x="307.9" y="769.4" class="lab">MYD88</text>
<text x="494.5" y="708.6" class="lab">MUC6</text>
</svg>
</body></html>
